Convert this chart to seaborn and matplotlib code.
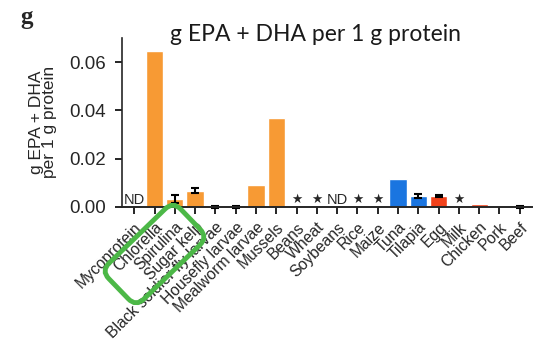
import numpy as np
import matplotlib
matplotlib.use('Agg')
import matplotlib.pyplot as plt
import matplotlib.transforms as mtransforms
from matplotlib.patches import FancyBboxPatch
import seaborn as sns

sns.set_style('ticks')
plt.rcParams['font.family'] = ['Liberation Sans', 'DejaVu Sans']

orange = '#F79A34'
blue = '#1A75E0'
red = '#F2421B'

# Data
foods = ['Mycoprotein', 'Chlorella', 'Spirulina', 'Sugar kelp',
         'Black soldier fly larvae', 'Housefly larvae', 'Mealworm larvae',
         'Mussels', 'Beans', 'Wheat', 'Soybeans', 'Rice', 'Maize', 'Tuna',
         'Tilapia', 'Egg', 'Milk', 'Chicken', 'Pork', 'Beef']
epa_dha = [0.0, 0.0645, 0.0033, 0.0068, 0.0, 0.0, 0.0093, 0.0368, 0.0, 0.0,
           0.0, 0.0, 0.0, 0.0115, 0.0047, 0.0046, 0.0, 0.0011, 0.0, 0.0]
err = [0.0, 0.0, 0.0015, 0.0012, 0.0004, 0.0004, 0.0, 0.0, 0.0, 0.0,
       0.0, 0.0, 0.0, 0.0, 0.0008, 0.0003, 0.0, 0.0, 0.0, 0.0004]
notes = ['ND', '', '', '', '', '', '', '', '\u2605', '\u2605',
         'ND', '\u2605', '\u2605', '', '', '', '\u2605', '', '', '']
bar_colors = [orange] * 13 + [blue, blue, red, red, red, red, red]

fig = plt.figure(figsize=(5.33, 3.41), dpi=100)
ax = fig.add_axes([0.229, 0.393, 0.769, 0.496])

sns.barplot(x=foods, y=epa_dha, hue=foods, palette=dict(zip(foods, bar_colors)),
            legend=False, width=0.85, saturation=1, ax=ax)

pos = np.arange(len(foods))
vals = np.array(epa_dha)
errs = np.array(err)
m = errs > 0
ax.errorbar(pos[m], vals[m], yerr=errs[m], fmt='none', ecolor='black',
            elinewidth=1.5, capsize=3, capthick=1.5, clip_on=False)

for i, t in enumerate(notes):
    if t == 'ND':
        ax.text(i, 0.0, t, ha='center', va='bottom', fontsize=10.5)
    elif t:
        ax.text(i, 0.0033, t, ha='center', va='center', fontsize=9,
                family=['DejaVu Sans'])

ax.set_xlim(-0.6, 19.6)
ax.set_ylim(0, 0.07)
ax.set_yticks([0, 0.02, 0.04, 0.06])
ax.set_yticklabels(['0.00', '0.02', '0.04', '0.06'], fontsize=13.5)
ax.set_xticks(pos)
ax.set_xticklabels(foods, rotation=45, ha='right', rotation_mode='anchor',
                   fontsize=11.3)
ax.tick_params(axis='x', length=5, width=1.2, pad=4, color='black')
ax.tick_params(axis='y', length=5, width=1.2, pad=6.5, color='black')
ax.set_ylabel('g EPA + DHA\nper 1 g protein', fontsize=12.5, linespacing=0.85,
              labelpad=9)
sns.despine(ax=ax)
ax.spines['left'].set_linewidth(1.2)
ax.spines['bottom'].set_linewidth(1.4)

fig.text(0.592, 0.898, 'g EPA + DHA per 1 g protein', ha='center', va='center',
         fontsize=16.5, family=['Lato', 'DejaVu Sans'], color='#1a1a1a')
fig.text(0.05, 0.95, 'g', ha='center', va='center', fontsize=18,
         fontweight='bold', family=['Liberation Serif', 'DejaVu Serif'])

# green highlight box around Chlorella / Spirulina / Sugar kelp labels
tr = (mtransforms.Affine2D().rotate_deg(44).translate(154.5, 341 - 254)
      .scale(1 / 533, 1 / 341) + fig.transFigure)
box = FancyBboxPatch((-50, -25), 100, 50,
                     boxstyle='round,pad=0,rounding_size=11',
                     transform=tr, fill=False, edgecolor='#4CB847',
                     linewidth=3.5, clip_on=False)
fig.patches.append(box)

fig.savefig('out.png', dpi=100)
